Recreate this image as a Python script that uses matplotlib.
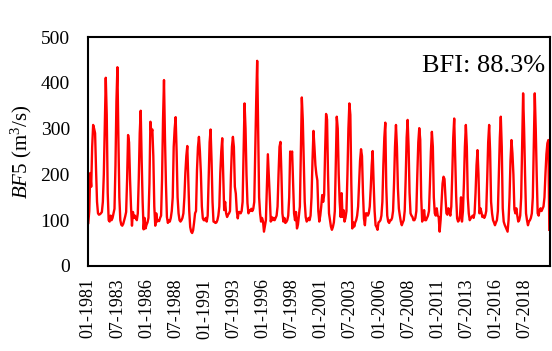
import matplotlib
matplotlib.use("Agg")
import matplotlib.pyplot as plt
import numpy as np

# Monthly BF5 values (m3/s), Jan 1981 - Aug 2020
bf5_1980s = [
    94, 120, 203, 173, 260, 308, 300, 290, 210, 140, 115, 112,   # 1981
    113, 115, 118, 140, 200, 300, 411, 330, 160, 100, 97, 110,   # 1982
    100, 105, 115, 125, 220, 360, 434, 280, 150, 100, 90, 88,    # 1983
    92, 100, 108, 118, 190, 286, 270, 190, 130, 88, 118, 105,    # 1984
    110, 104, 100, 115, 190, 290, 339, 230, 140, 80, 105, 82,    # 1985
    90, 95, 105, 180, 315, 290, 298, 240, 130, 88, 115, 97,      # 1986
    100, 98, 105, 110, 190, 320, 406, 280, 180, 107, 94, 100,    # 1987
    97, 105, 120, 150, 260, 300, 325, 250, 150, 115, 100, 97,    # 1988
    100, 105, 115, 150, 203, 240, 262, 190, 120, 85, 75, 72,     # 1989
]
bf5_1990s = [
    78, 95, 115, 120, 210, 260, 282, 250, 203, 130, 104, 100,    # 1990
    100, 105, 97, 110, 190, 270, 298, 230, 140, 97, 96, 94,      # 1991
    95, 100, 110, 130, 203, 250, 279, 200, 122, 140, 115, 107,   # 1992
    112, 115, 120, 200, 260, 282, 260, 173, 158, 120, 104, 118,  # 1993
    118, 115, 120, 140, 250, 355, 300, 200, 137, 115, 122, 120,  # 1994
    125, 120, 125, 140, 250, 360, 448, 290, 150, 115, 97, 105,   # 1995
    98, 75, 88, 100, 170, 244, 199, 150, 97, 107, 100, 105,      # 1996
    100, 105, 110, 130, 200, 260, 271, 200, 115, 97, 105, 94,    # 1997
    96, 100, 110, 150, 250, 240, 250, 180, 115, 100, 118, 82,    # 1998
    90, 110, 130, 250, 368, 319, 230, 140, 107, 97, 100, 105,    # 1999
]
bf5_2000s = [
    100, 110, 150, 230, 295, 260, 220, 200, 187, 120, 97, 110,   # 2000
    130, 155, 140, 155, 250, 332, 320, 200, 115, 100, 86, 79,    # 2001
    85, 95, 120, 220, 326, 300, 200, 140, 107, 159, 107, 122,    # 2002
    97, 105, 120, 200, 300, 355, 330, 180, 82, 95, 86, 95,       # 2003
    100, 110, 130, 180, 230, 255, 240, 160, 104, 89, 115, 115,   # 2004
    110, 115, 130, 170, 220, 251, 180, 120, 89, 85, 79, 95,      # 2005
    97, 100, 110, 140, 220, 280, 313, 173, 110, 97, 94, 100,     # 2006
    100, 105, 120, 180, 260, 308, 260, 170, 125, 110, 97, 89,    # 2007
    95, 100, 120, 190, 280, 319, 260, 160, 115, 110, 107, 100,   # 2008
    100, 105, 120, 200, 270, 301, 276, 150, 97, 107, 122, 100,   # 2009
]
bf5_2010s = [
    100, 105, 110, 120, 180, 250, 293, 260, 150, 115, 110, 126,  # 2010
    110, 107, 75, 100, 140, 180, 195, 190, 150, 115, 112, 126,   # 2011
    120, 110, 130, 200, 280, 322, 240, 153, 104, 97, 100, 110,   # 2012
    150, 97, 120, 180, 260, 308, 260, 150, 115, 100, 104, 107,   # 2013
    110, 105, 115, 160, 220, 253, 200, 115, 126, 118, 107, 110,  # 2014
    105, 110, 120, 190, 270, 308, 250, 140, 115, 100, 95, 89,    # 2015
    95, 100, 120, 200, 280, 326, 260, 126, 97, 90, 85, 80,       # 2016
    75, 100, 150, 230, 275, 246, 200, 124, 115, 126, 110, 97,    # 2017
    100, 110, 150, 260, 377, 300, 200, 115, 100, 89, 97, 100,    # 2018
    105, 115, 150, 260, 377, 300, 200, 115, 110, 122, 126, 120,  # 2019
]
bf5_2020 = [125, 130, 150, 200, 244, 268, 275, 79]

tick_labels = ["01-1981", "07-1983", "01-1986", "07-1988", "01-1991",
               "07-1993", "01-1996", "07-1998", "01-2001", "07-2003",
               "01-2006", "07-2008", "01-2011", "07-2013", "01-2016",
               "07-2018"]
bfi_text = "BFI: 88.3%"

values = np.array(bf5_1980s + bf5_1990s + bf5_2000s + bf5_2010s + bf5_2020)
months = np.arange(len(values))

plt.rcParams['font.family'] = ['Liberation Serif', 'DejaVu Serif']
plt.rcParams['mathtext.fontset'] = 'custom'
plt.rcParams['mathtext.rm'] = 'Liberation Serif'
plt.rcParams['mathtext.it'] = 'Liberation Serif:italic'

fig = plt.figure(figsize=(5.52, 3.51), dpi=100)
ax = fig.add_axes([88/552, 85/351, 462/552, 229/351])

ax.plot(months, values, color='#ff0000', lw=1.7, solid_joinstyle='round')

ax.set_xlim(-0.3, len(values) - 0.3)
ax.set_ylim(0, 500)
ax.set_yticks(np.arange(0, 501, 100))
ax.set_xticks(np.arange(len(tick_labels)) * 30)
ax.set_xticklabels(tick_labels, rotation=90)
ax.tick_params(axis='y', length=0, pad=13, labelsize=14)
ax.tick_params(axis='x', length=0, pad=9, labelsize=13)
for s in ax.spines.values():
    s.set_linewidth(1.5)
    s.set_color('black')

ax.set_ylabel(r'$\it{BF5}$ (m$^3$/s)', fontsize=15, labelpad=5)
ax.text(0.989, 0.875, bfi_text, transform=ax.transAxes, ha='right',
        va='center', fontsize=19)

fig.savefig('out.png', dpi=100)
